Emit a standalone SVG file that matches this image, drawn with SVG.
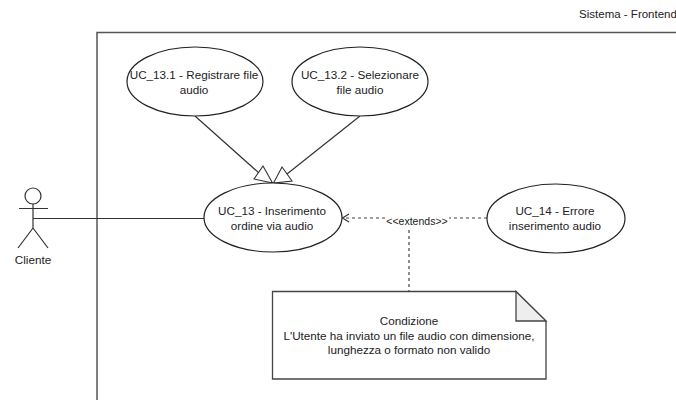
<svg xmlns="http://www.w3.org/2000/svg" width="676" height="400" viewBox="0 0 676 400">
<style>
text{font-family:"Liberation Sans",Arial,sans-serif;font-size:11.7px;fill:#222;text-anchor:middle}
.s{fill:#fff;stroke:#222;stroke-width:1.2}
.l{fill:none;stroke:#333;stroke-width:1.2}
.d{fill:none;stroke:#444;stroke-width:1.2;stroke-dasharray:3 3}
.h{fill:#fff;stroke:#333;stroke-width:1.1}
</style>
<rect width="676" height="400" fill="#fff"/>
<g id="frame">
<path d="M97 400V32.5H676" fill="none" stroke="#555" stroke-width="1.5"/>
<text x="628" y="17.500" style="font-size:11.500px">Sistema - Frontend</text>
</g>
<g id="connectors">
<path class="l" d="M33 218.500H204"/>
<path class="l" d="M195 116L259 173"/>
<path class="h" d="M263 166L254 179L272.500 183Z"/>
<path class="l" d="M360 116L287 174"/>
<path class="h" d="M282 167L292 181L273.500 183Z"/>
<path class="d" d="M487 218H345"/>
<path class="l" d="M349 214L342.500 218L349 222"/>
<path class="d" d="M409 224V291"/>
<rect x="385" y="216" width="64" height="12" fill="#fff"/>
<text x="417" y="225" style="font-size:10.500px">&lt;&lt;extends&gt;&gt;</text>
</g>
<g id="actor">
<circle class="l" cx="33" cy="196" r="8"/>
<path class="l" d="M33 204V228M19 208.500H48M33 228L18 248M33 228L48 248"/>
<text x="33" y="264">Cliente</text>
</g>
<g id="uc13-1">
<ellipse class="s" cx="195" cy="81.500" rx="68" ry="34.500"/>
<text x="194" y="79">UC_13.1 - Registrare file</text>
<text x="194" y="94">audio</text>
</g>
<g id="uc13-2">
<ellipse class="s" cx="360" cy="81.500" rx="68" ry="34.500"/>
<text x="360" y="79">UC_13.2 - Selezionare</text>
<text x="360" y="94">file audio</text>
</g>
<g id="uc13">
<ellipse class="s" cx="273" cy="217.500" rx="69" ry="34.500"/>
<text x="272" y="215">UC_13 - Inserimento</text>
<text x="272" y="230">ordine via audio</text>
</g>
<g id="uc14">
<ellipse class="s" cx="556" cy="218.500" rx="69" ry="34.500"/>
<text x="555" y="215">UC_14 - Errore</text>
<text x="555" y="230">inserimento audio</text>
</g>
<g id="note">
<path d="M272.500 291.500H516L546 321V379H272.500Z" fill="#fff" stroke="#444" stroke-width="1.3"/>
<path d="M516 291.500V321H546Z" fill="#eee" stroke="#444" stroke-width="1.3"/>
<text x="409" y="325">Condizione</text>
<text x="409" y="340">L'Utente ha inviato un file audio con dimensione,</text>
<text x="409" y="354">lunghezza o formato non valido</text>
</g>
</svg>
